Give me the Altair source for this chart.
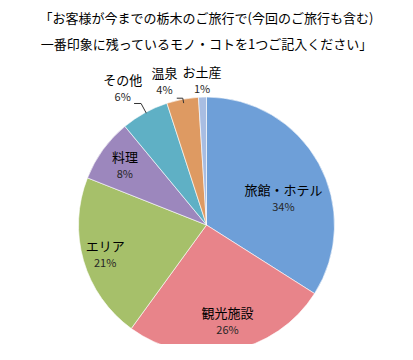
import math
import altair as alt
import pandas as pd

# ---- data ----
categories = ["旅館・ホテル", "観光施設", "エリア", "料理", "その他", "温泉", "お土産"]
values = [34, 26, 21, 8, 6, 4, 1]
title_lines = ["「お客様が今までの栃木のご旅行で(今回のご旅行も含む)",
               "一番印象に残っているモノ・コトを1つご記入ください」"]

# ---- style ----
colors = ["#6E9FD8", "#E8848A", "#A6C06A", "#9C87BD", "#5FB0C5", "#DE9A62", "#A8BDE2"]
label_angle_shift = [10.5, -1.3, -0.8, -0.7, -3.0, -5.7, 0.0]   # degrees
label_radius = [81, 100, 106, 100, 159, 148, 143]               # px
leader_slices = ["その他", "温泉"]
leader_angle_shift = [0.5, 0.2]
leader_inner_r = [127, 124]
leader_elbow_r = [138, 129]
leader_tail = [7, 6]

FONT = "Noto Sans CJK JP"
W, H = 397, 238
R = 128

total = sum(values)
rows = []
cum = 0
mids = {}
for i, (c, v) in enumerate(zip(categories, values)):
    mid = (cum + v / 2) / total * 360
    mids[c] = mid
    a = math.radians(mid + label_angle_shift[i])
    r = label_radius[i]
    rows.append({"cat": c, "value": v, "idx": i, "pct": f"{v}%",
                 "lx": r * math.sin(a), "ly": r * math.cos(a)})
    cum += v
df = pd.DataFrame(rows)

lead_rows = []
for j, c in enumerate(leader_slices):
    a = math.radians(mids[c] + leader_angle_shift[j])
    ex, ey = leader_inner_r[j] * math.sin(a), leader_inner_r[j] * math.cos(a)
    bx, by = leader_elbow_r[j] * math.sin(a), leader_elbow_r[j] * math.cos(a)
    tx, ty = bx - leader_tail[j], by
    for k, (x, y) in enumerate([(tx, ty), (bx, by), (ex, ey)]):
        lead_rows.append({"cat": c, "k": k, "x": x, "y": y})
ldf = pd.DataFrame(lead_rows)

xs = alt.Scale(domain=[-W / 2, W / 2], nice=False, zero=False)
ys = alt.Scale(domain=[-H / 2, H / 2], nice=False, zero=False)

pie = alt.Chart(df).mark_arc(outerRadius=R, stroke="white", strokeWidth=0.6).encode(
    theta=alt.Theta("value:Q", stack=True),
    order=alt.Order("idx:Q"),
    color=alt.Color("cat:N", scale=alt.Scale(domain=categories, range=colors), legend=None),
)

leaders = alt.Chart(ldf).mark_line(color="#333333", strokeWidth=1).encode(
    x=alt.X("x:Q", scale=xs, axis=None),
    y=alt.Y("y:Q", scale=ys, axis=None),
    detail="cat:N",
    order="k:Q",
)

names = alt.Chart(df).mark_text(font=FONT, fontSize=13, color="#000000", dy=-9).encode(
    x=alt.X("lx:Q", scale=xs, axis=None),
    y=alt.Y("ly:Q", scale=ys, axis=None),
    text="cat:N",
)

pcts = alt.Chart(df).mark_text(font=FONT, fontSize=11, color="#262626", dy=8).encode(
    x=alt.X("lx:Q", scale=xs, axis=None),
    y=alt.Y("ly:Q", scale=ys, axis=None),
    text="pct:N",
)

chart = alt.layer(pie, leaders, names, pcts).properties(
    width=W,
    height=H,
    padding={"left": 0, "right": 0, "top": 98, "bottom": 0},
    autosize=alt.AutoSizeParams(type="none"),
    title=alt.Title(text=title_lines, font=FONT, fontSize=13, fontWeight="normal",
                    color="#000000", anchor="middle", lineHeight=26, offset=15),
).configure_view(stroke=None)

chart.save("out.html", embed_options={"renderer": "svg", "actions": False})
